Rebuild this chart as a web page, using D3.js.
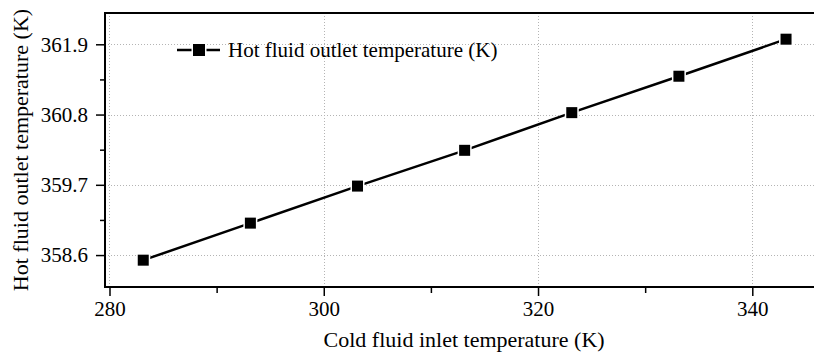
<!DOCTYPE html>
<html>
<head>
<meta charset="utf-8">
<script src="https://cdn.jsdelivr.net/npm/d3@7"></script>
<style>
  html, body { margin: 0; padding: 0; background: #fff; overflow: hidden; }
  svg { display: block; }
</style>
</head>
<body>
<svg id="chart" width="814" height="356"></svg>
<script>
// cold fluid inlet temperature (K)
const coldInlet = [283.15, 293.15, 303.15, 313.15, 323.15, 333.15, 343.15];
// hot fluid outlet temperature (K)
const hotOutlet = [358.52, 359.10, 359.68, 360.24, 360.83, 361.40, 361.98];

const xMajorTicks = [280, 300, 320, 340];
const xMinorTicks = [290, 310, 330];
const yMajorTicks = [358.6, 359.7, 360.8, 361.9];
const yMinorTicks = [359.15, 360.25, 361.35];

const seriesName = 'Hot fluid outlet temperature (K)';
const xTitle = 'Cold fluid inlet temperature (K)';
const yTitle = 'Hot fluid outlet temperature (K)';

const fontFamily = 'Liberation Serif, DejaVu Serif, serif';

const width = 814;
const height = 356;
const margin = { top: 13, right: 0, bottom: 69, left: 105 };
const innerWidth = width - margin.left - margin.right;
const innerHeight = height - margin.top - margin.bottom;

const svg = d3.select('#chart').attr('font-family', fontFamily);

// the plot area runs a little past the right edge of the picture
const x = d3.scaleLinear().domain([279.58, 345.76]).range([0, innerWidth]);
const y = d3.scaleLinear().domain([358.1, 362.39]).range([innerHeight, 0]);

const root = svg.append('g')
  .attr('transform', `translate(${margin.left}, ${margin.top})`);

// grid
root.append('g')
  .selectAll('line')
  .data(yMajorTicks)
  .join('line')
  .attr('x1', 0)
  .attr('x2', innerWidth)
  .attr('y1', (d) => Math.round(y(d)) + 0.5)
  .attr('y2', (d) => Math.round(y(d)) + 0.5)
  .attr('stroke', '#b4b4b4')
  .attr('stroke-width', 1)
  .attr('stroke-dasharray', '1 2');

root.append('g')
  .selectAll('line')
  .data(xMajorTicks)
  .join('line')
  .attr('x1', (d) => Math.round(x(d)) + 0.5)
  .attr('x2', (d) => Math.round(x(d)) + 0.5)
  .attr('y1', 0)
  .attr('y2', innerHeight)
  .attr('stroke', '#b4b4b4')
  .attr('stroke-width', 1)
  .attr('stroke-dasharray', '1 2');

// axes
const styleAxis = (group) => {
  group.attr('font-family', fontFamily).attr('font-size', 21);
  group.select('.domain').remove();
  group.selectAll('line').attr('stroke', '#000').attr('stroke-width', 1.5);
  group.selectAll('text').attr('fill', '#000');
};

root.append('g')
  .call(d3.axisLeft(y).tickValues(yMajorTicks).tickSize(9).tickPadding(8)
    .tickFormat(d3.format('.1f')))
  .call(styleAxis);

root.append('g')
  .call(d3.axisLeft(y).tickValues(yMinorTicks).tickSize(5))
  .call(styleAxis)
  .call((group) => group.selectAll('text').remove());

root.append('g')
  .attr('transform', `translate(0, ${innerHeight})`)
  .call(d3.axisBottom(x).tickValues(xMajorTicks).tickSize(9).tickPadding(5)
    .tickFormat(d3.format('d')))
  .call(styleAxis);

root.append('g')
  .attr('transform', `translate(0, ${innerHeight})`)
  .call(d3.axisBottom(x).tickValues(xMinorTicks).tickSize(6))
  .call(styleAxis)
  .call((group) => group.selectAll('text').remove());

// frame: top, left and bottom (right side is outside the picture)
root.append('path')
  .attr('d', `M${innerWidth},0H0V${innerHeight}H${innerWidth}`)
  .attr('fill', 'none')
  .attr('stroke', '#000')
  .attr('stroke-width', 2);

// series
const points = coldInlet.map((c, i) => ({ c, h: hotOutlet[i] }));

root.append('path')
  .datum(points)
  .attr('fill', 'none')
  .attr('stroke', '#000')
  .attr('stroke-width', 2.5)
  .attr('d', d3.line().x((d) => x(d.c)).y((d) => y(d.h)));

const markerSize = 11;
root.append('g')
  .selectAll('rect')
  .data(points)
  .join('rect')
  .attr('x', (d) => x(d.c) - markerSize / 2)
  .attr('y', (d) => y(d.h) - markerSize / 2)
  .attr('width', markerSize)
  .attr('height', markerSize)
  .attr('fill', '#000')
  .attr('stroke', '#fff')
  .attr('stroke-width', 3)
  .attr('paint-order', 'stroke');

// legend
const legend = svg.append('g').attr('transform', 'translate(177, 50)');
legend.append('line')
  .attr('x1', 0).attr('x2', 43)
  .attr('y1', 0).attr('y2', 0)
  .attr('stroke', '#000').attr('stroke-width', 2.5);
legend.append('rect')
  .attr('x', 22 - 6).attr('y', -6)
  .attr('width', 12).attr('height', 12)
  .attr('fill', '#000')
  .attr('stroke', '#fff').attr('stroke-width', 3)
  .attr('paint-order', 'stroke');
legend.append('text')
  .attr('x', 51)
  .attr('y', 7)
  .attr('font-size', 21)
  .text(seriesName);

// axis titles
svg.append('text')
  .attr('x', margin.left + x(313.1))
  .attr('y', 347)
  .attr('text-anchor', 'middle')
  .attr('font-size', 22)
  .text(xTitle);

svg.append('text')
  .attr('transform', 'translate(28, 150) rotate(-90)')
  .attr('text-anchor', 'middle')
  .attr('font-size', 22)
  .text(yTitle);
</script>
</body>
</html>
